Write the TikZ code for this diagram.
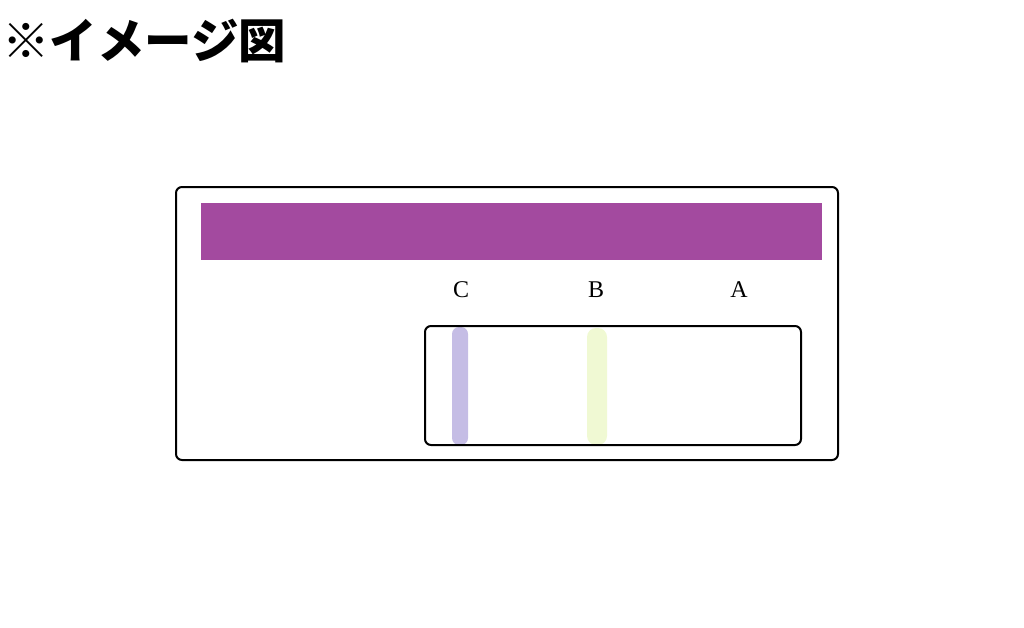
\documentclass[tikz,border=0pt]{standalone}
\usepackage{fontspec}
\setmainfont{Liberation Serif}
\newfontfamily\cjk{Noto Sans CJK JP}
\definecolor{barpurple}{HTML}{A34A9F}
\definecolor{stripeC}{HTML}{C5BDE5}
\definecolor{stripeB}{HTML}{F0F9D3}
\begin{document}
\begin{tikzpicture}[x=1pt,y=-1pt,
  frame/.style={draw=black,line width=2pt,rounded corners=6pt},
  lbl/.style={font=\fontsize{24}{28}\selectfont,inner sep=0pt}]
\useasboundingbox (0,0) rectangle (1024,627);
\node[anchor=west,inner sep=0pt,font=\cjk\bfseries\fontsize{47.5}{50}\selectfont] (title) at (2,41) {※イメージ図};
\draw[frame] (176,187) rectangle (838,460);
\fill[barpurple] (201,203) rectangle (822,260);
\node[lbl] (C) at (461,290) {C};
\node[lbl] (B) at (596,290) {B};
\node[lbl] (A) at (739,290) {A};
\fill[stripeC,rounded corners=7pt] (452,327) rectangle (468,445);
\fill[stripeB,rounded corners=9pt] (587,328) rectangle (607,445);
\draw[frame] (425,326) rectangle (801,445);
\end{tikzpicture}
\end{document}
